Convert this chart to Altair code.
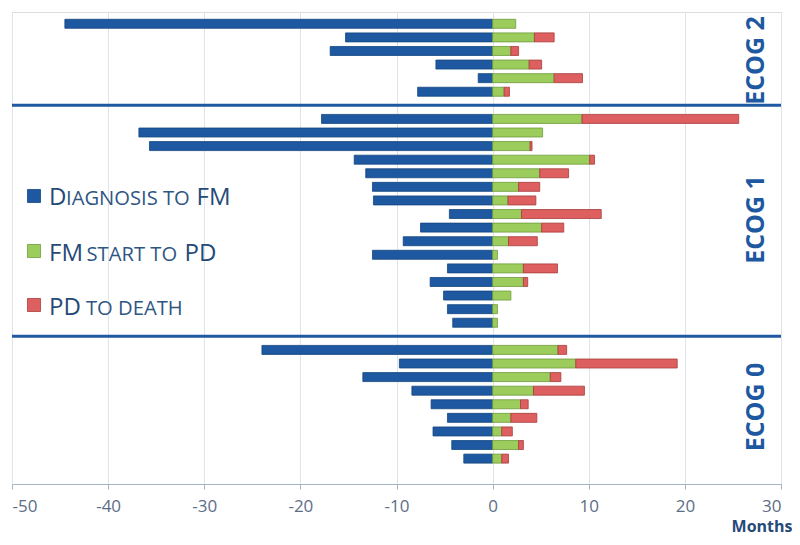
import altair as alt
import pandas as pd

# ---- data (months) ----
groups = ["ECOG 2", "ECOG 1", "ECOG 0"]
# ECOG 2
diag_e2 = [44.5, 15.3, 16.9, 5.9, 1.5, 7.8]
fm_e2 = [2.4, 4.35, 1.9, 3.8, 6.4, 1.2]
pd_e2 = [0.0, 2.05, 0.8, 1.3, 2.95, 0.55]
# ECOG 1
diag_e1 = [17.8, 36.8, 35.7, 14.4, 13.2, 12.5, 12.4, 4.5, 7.5, 9.3, 12.5, 4.7, 6.5, 5.1, 4.7, 4.15]
fm_e1 = [9.3, 5.2, 3.9, 10.1, 4.9, 2.7, 1.6, 3.0, 5.1, 1.65, 0.5, 3.2, 3.2, 1.9, 0.5, 0.5]
pd_e1 = [16.3, 0.0, 0.2, 0.5, 3.0, 2.2, 2.9, 8.3, 2.3, 3.0, 0.0, 3.55, 0.45, 0.0, 0.0, 0.0]
# ECOG 0
diag_e0 = [24.0, 9.7, 13.5, 8.4, 6.4, 4.7, 6.2, 4.25, 3.0]
fm_e0 = [6.8, 8.65, 6.0, 4.25, 2.9, 1.9, 0.95, 2.7, 0.95]
pd_e0 = [0.9, 10.55, 1.1, 5.3, 0.8, 2.7, 1.1, 0.5, 0.7]

series = ["Diagnosis to FM", "FM start to PD", "PD to death"]
colors = ["#1d58a0", "#9ccc5c", "#de5f5f"]
strokes = ["#15467f", "#6e9a3a", "#a83c3c"]

# group label placement (row units)
label_pos = [2.7, 14.4, 28.2]

# ---- build rows (one slot per patient, one slot per separator) ----
recs = []
label_rows = []
sep_rows = []
slot = 0
for gi, (d, f, p) in enumerate([(diag_e2, fm_e2, pd_e2), (diag_e1, fm_e1, pd_e1), (diag_e0, fm_e0, pd_e0)]):
    for dv, fv, pv in zip(d, f, p):
        recs.append({"row": slot, "series": series[0], "start": -dv, "end": 0.0})
        recs.append({"row": slot, "series": series[1], "start": 0.0, "end": fv})
        if pv > 0:
            recs.append({"row": slot, "series": series[2], "start": fv, "end": fv + pv})
        slot += 1
    label_rows.append({"label": groups[gi], "row": label_pos[gi], "x": 27.4})
    if gi < 2:
        sep_rows.append({"row": slot, "x1": -50, "x2": 30})
        slot += 1

bars = pd.DataFrame(recs)
labels = pd.DataFrame(label_rows)
seps = pd.DataFrame(sep_rows)

yscale = alt.Scale(domain=[-0.5, slot + 0.5], reverse=True, nice=False, zero=False)
xscale = alt.Scale(domain=[-50, 30], nice=False, zero=False)

FONT = "Open Sans"

bar_layer = alt.Chart(bars).mark_bar(size=9, orient="horizontal", strokeWidth=0.8).encode(
    x=alt.X("start:Q", scale=xscale,
            axis=alt.Axis(values=list(range(-50, 31, 10)), grid=True, gridColor="#dfe4ec",
                          domainColor="#a6b3c4", tickColor="#a6b3c4", tickSize=5,
                          labelFontSize=17, labelColor="#5c6e88", labelPadding=9,
                          labelExpr="toString(datum.value)",
                          labelFont=FONT, title="Months", titleFont=FONT,
                          titleFontSize=16, titleFontWeight="bold", titleColor="#264a78",
                          titleAnchor="end", titleAlign="right", titleX=780, titleY=47,
                          titleBaseline="alphabetic")),
    x2="end:Q",
    y=alt.Y("row:Q", scale=yscale, axis=None),
    color=alt.Color("series:N", scale=alt.Scale(domain=series, range=colors), legend=None),
    stroke=alt.Stroke("series:N", scale=alt.Scale(domain=series, range=strokes), legend=None),
)

sep_layer = alt.Chart(seps).mark_rule(color="#1d58a0", strokeWidth=3).encode(
    x=alt.X("x1:Q", scale=xscale), x2="x2:Q", y=alt.Y("row:Q", scale=yscale)
)

grp_layer = alt.Chart(labels).mark_text(
    angle=270, fontSize=25, fontWeight="bold", color="#1d58a0", font=FONT,
    align="center", baseline="middle"
).encode(x=alt.X("x:Q", scale=xscale), y=alt.Y("row:Q", scale=yscale), text="label:N")

# ---- custom legend (pixel layout) ----
leg_sq = pd.DataFrame({"series": series, "x": [22, 22, 22], "y": [184, 239, 293]})
sq_layer = alt.Chart(leg_sq).mark_square(size=170, strokeWidth=0.8, opacity=1, filled=True).encode(
    x=alt.X("x:Q", scale=None), y=alt.Y("y:Q", scale=None),
    color=alt.Color("series:N", scale=alt.Scale(domain=series, range=colors), legend=None),
    stroke=alt.Stroke("series:N", scale=alt.Scale(domain=series, range=strokes), legend=None),
)
leg_big = pd.DataFrame({"t": ["D", "FM", "FM", "PD", "PD"],
                        "x": [37, 184.5, 37, 172.5, 37], "y": [193, 193, 249, 249, 303]})
leg_small = pd.DataFrame({"t": ["IAGNOSIS TO", "START TO", "TO DEATH"],
                          "x": [54, 74.5, 74], "y": [193, 249, 303]})
big_layer = alt.Chart(leg_big).mark_text(
    fontSize=24, color="#264a78", font=FONT, align="left", baseline="alphabetic"
).encode(x=alt.X("x:Q", scale=None), y=alt.Y("y:Q", scale=None), text="t:N")
small_layer = alt.Chart(leg_small).mark_text(
    fontSize=20.2, color="#2f5683", font=FONT, align="left", baseline="alphabetic"
).encode(x=alt.X("x:Q", scale=None), y=alt.Y("y:Q", scale=None), text="t:N")

chart = alt.layer(bar_layer, sep_layer, grp_layer, sq_layer, big_layer, small_layer).properties(
    width=769, height=472,
    autosize=alt.AutoSizeParams(type="none"),
    padding={"left": 4, "top": 4, "right": 11, "bottom": 53},
).configure_view(stroke=None).configure(font=FONT)

chart.save("out.html", embed_options={"renderer": "svg", "actions": False})
